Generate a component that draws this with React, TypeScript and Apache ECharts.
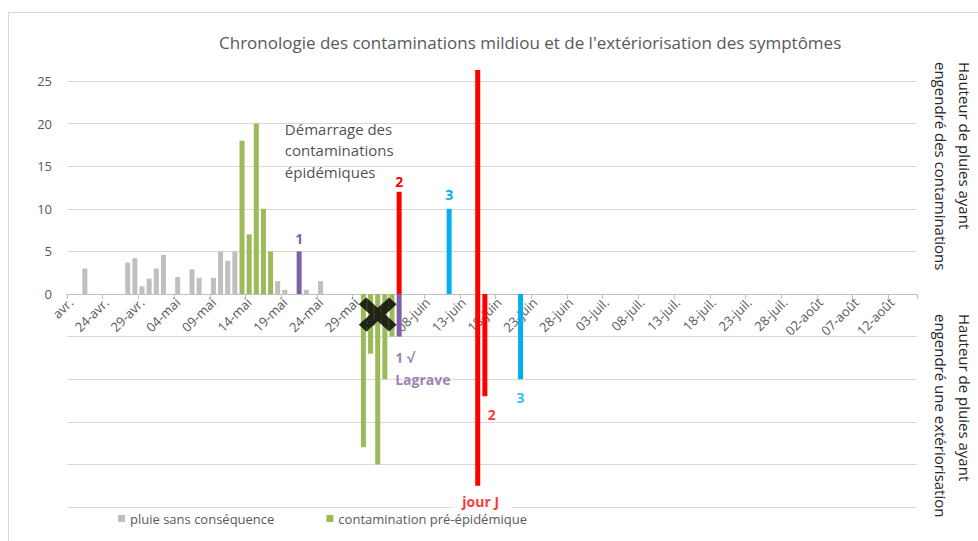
import { useEffect, useRef } from 'react';
import * as echarts from 'echarts';

// ---- categories (one per day, 19-avr. .. 15-août) ----
const monthSpans: [string, number, number][] = [
  ['avr.', 19, 30],
  ['mai', 1, 31],
  ['juin', 1, 30],
  ['juil.', 1, 31],
  ['août', 1, 15],
];
const categories: string[] = [];
for (const [m, a, b] of monthSpans) {
  for (let d = a; d <= b; d++) categories.push(String(d).padStart(2, '0') + '-' + m);
}

// tick labels shown every 5 days
const tickLabels = [
  'avr.', '24-avr.', '29-avr.', '04-mai', '09-mai', '14-mai', '19-mai', '24-mai',
  '29-mai', '03-juin', '08-juin', '13-juin', '18-juin', '23-juin', '28-juin',
  '03-juil.', '08-juil.', '13-juil.', '18-juil.', '23-juil.', '28-juil.',
  '02-août', '07-août', '12-août',
];

// ---- rain without consequence ----
const pluieDates = ['21-avr.', '27-avr.', '28-avr.', '29-avr.', '30-avr.', '01-mai', '02-mai', '04-mai', '06-mai', '07-mai', '09-mai', '10-mai', '11-mai', '12-mai', '18-mai', '19-mai', '22-mai', '24-mai'];
const pluieValues = [3, 3.7, 4.2, 0.9, 1.8, 3, 4.6, 2, 2.9, 1.9, 1.9, 5, 3.9, 5, 1.5, 0.5, 0.5, 1.5];

// ---- pre-epidemic contamination (rain) ----
const preEpiDates = ['13-mai', '14-mai', '15-mai', '16-mai', '17-mai'];
const preEpiValues = [18, 7, 20, 10, 5];

// ---- externalisation of pre-epidemic contaminations ----
const preEpiExtDates = ['30-mai', '31-mai', '01-juin', '02-juin', '03-juin'];
const preEpiExtValues = [-18, -7, -20, -10, -5];

// ---- contamination 1 (purple) ----
const cont1Dates = ['21-mai'];
const cont1Values = [5];
const ext1Dates = ['04-juin'];
const ext1Values = [-5];

// ---- contamination 2 (red) ----
const cont2Dates = ['04-juin'];
const cont2Values = [12];
const ext2Dates = ['16-juin'];
const ext2Values = [-12];

// ---- contamination 3 (blue) ----
const cont3Dates = ['11-juin'];
const cont3Values = [10];
const ext3Dates = ['21-juin'];
const ext3Values = [-10];

// ---- "jour J" marker ----
const jourJDates = ['15-juin', '15-juin'];
const jourJValues = [26.3, -22.5];

// ---- cross marker ----
const crossDates = ['01-juin'];
const crossValues = [-2.4];

// ---- annotations ----
const annotDates = ['19-mai', '04-juin', '21-juin', '16-juin', '15-juin'];
const annotValues = [16.9, -8.7, -12.1, -14.1, -24.3];
const annotTexts = ['Démarrage des\ncontaminations\népidémiques', '1 √\nLagrave', '3', '2', 'jour J'];
const annotColors = ['#1a1a1a', '#8064a2', '#00b0f0', '#ff0000', '#ff0000'];

const Y_MIN = -25;
const Y_MAX = 25;

const FONT = "'Open Sans', 'Noto Sans', sans-serif";
const GRAY = '#bfbfbf';
const GREEN = '#9bbb59';
const PURPLE = '#7f5fa8';
const RED = '#ff0000';
const BLUE = '#00b0f0';

const pairs = (d: string[], v: number[]) => d.map((x, i) => [x, v[i]]);

const CROSS = 'path://M20,0 L50,30 L80,0 L100,20 L70,50 L100,80 L80,100 L50,70 L20,100 L0,80 L30,50 L0,20 Z';

const GRID = { left: 67, right: 61, top: 81, bottom: 34 };
const PLOT_H = 541 - GRID.top - GRID.bottom;

export default function App() {
  const ref = useRef<HTMLDivElement>(null);
  useEffect(() => {
    if (!ref.current) return;
    const chart = echarts.init(ref.current, undefined, { renderer: 'svg' });
    const barBase = { type: 'bar', barWidth: 5, barGap: '-100%', silent: true } as const;
    const numLabel = (color: string, text: string, distance: number) => ({
      show: true, position: 'top', distance, formatter: text, color,
      fontFamily: FONT, fontSize: 14, fontWeight: 'bold',
    });
    // x axis drawn along the zero line of the value axis
    const zeroOffset = -PLOT_H * (0 - Y_MIN) / (Y_MAX - Y_MIN);
    chart.setOption({
      animation: false,
      backgroundColor: '#ffffff',
      title: {
        text: "Chronologie des contaminations mildiou et de l'extériorisation des symptômes",
        left: 219, top: 34,
        padding: 0,
        textStyle: { color: '#595959', fontFamily: FONT, fontSize: 17, fontWeight: 'normal' },
      },
      legend: {
        data: ['pluie sans conséquence', 'contamination pré-épidémique'],
        left: 118, top: 512, padding: 0,
        icon: 'rect', itemWidth: 7, itemHeight: 7, itemGap: 52,
        textStyle: { color: '#595959', fontFamily: FONT, fontSize: 13 },
      },
      grid: GRID,
      xAxis: {
        type: 'category',
        data: categories,
        boundaryGap: true,
        offset: zeroOffset,
        axisLine: { onZero: false, lineStyle: { color: GRAY } },
        axisTick: { show: true, interval: 4, length: 5, lineStyle: { color: GRAY } },
        axisLabel: {
          interval: 4, rotate: 45, margin: 6,
          color: '#595959', fontFamily: FONT, fontSize: 13,
          formatter: (_v: string, idx: number) => tickLabels[Math.round(idx / 5)] ?? '',
        },
        splitLine: { show: false },
      },
      yAxis: {
        type: 'value', min: Y_MIN, max: Y_MAX, interval: 5,
        axisLine: { show: false }, axisTick: { show: false },
        axisLabel: {
          color: '#595959', fontFamily: FONT, fontSize: 13, margin: 15,
          formatter: (v: number) => (v >= 0 ? String(v) : ''),
        },
        splitLine: { lineStyle: { color: '#d9d9d9' } },
      },
      graphic: [
        {
          type: 'rect', shape: { x: 8.5, y: 12.5, width: 1000, height: 600 },
          style: { fill: 'none', stroke: '#d9d9d9', lineWidth: 1 }, silent: true, z: -1,
        },
        {
          type: 'text', x: 953, y: 62, rotation: -Math.PI / 2,
          style: {
            text: 'Hauteur de pluies ayant\nengendré des contaminations',
            fill: '#262626', font: `15px ${FONT}`, align: 'left', verticalAlign: 'middle', lineHeight: 24,
          },
        },
        {
          type: 'text', x: 953, y: 314, rotation: -Math.PI / 2,
          style: {
            text: 'Hauteur de pluies ayant\nengendré une extériorisation',
            fill: '#262626', font: `15px ${FONT}`, align: 'left', verticalAlign: 'middle', lineHeight: 24,
          },
        },
      ],
      series: [
        { ...barBase, name: 'pluie sans conséquence', data: pairs(pluieDates, pluieValues), itemStyle: { color: GRAY } },
        { ...barBase, name: 'contamination pré-épidémique', data: pairs(preEpiDates, preEpiValues), itemStyle: { color: GREEN } },
        { ...barBase, name: 'extériorisation pré-épidémique', data: pairs(preEpiExtDates, preEpiExtValues), itemStyle: { color: GREEN } },
        { ...barBase, name: 'contamination 1', data: pairs(cont1Dates, cont1Values), itemStyle: { color: PURPLE }, label: numLabel(PURPLE, '1', 6) },
        { ...barBase, name: 'extériorisation 1', data: pairs(ext1Dates, ext1Values), itemStyle: { color: PURPLE } },
        { ...barBase, name: 'contamination 2', data: pairs(cont2Dates, cont2Values), itemStyle: { color: RED }, label: numLabel(RED, '2', 3) },
        { ...barBase, name: 'extériorisation 2', data: pairs(ext2Dates, ext2Values), itemStyle: { color: RED } },
        { ...barBase, name: 'contamination 3', data: pairs(cont3Dates, cont3Values), itemStyle: { color: BLUE }, label: numLabel(BLUE, '3', 7) },
        { ...barBase, name: 'extériorisation 3', data: pairs(ext3Dates, ext3Values), itemStyle: { color: BLUE } },
        { ...barBase, name: 'jour J', data: pairs(jourJDates, jourJValues), itemStyle: { color: RED }, clip: false, z: 3 },
        {
          type: 'scatter', name: 'démarrage', silent: true, z: 5,
          symbol: CROSS, symbolSize: [38, 34],
          itemStyle: { color: '#000000' },
          data: pairs(crossDates, crossValues),
        },
        {
          type: 'scatter', name: 'annotations', silent: true, z: 6,
          symbolSize: 0,
          clip: false,
          data: annotDates.map((d, i) => ({
            value: [d, annotValues[i]],
            label: {
              show: true,
              position: 'inside',
              formatter: annotTexts[i],
              color: annotColors[i],
              fontFamily: FONT,
              fontSize: i === 0 ? 15 : 14,
              fontWeight: i === 0 ? 'normal' : 'bold',
              align: i <= 1 ? 'left' : 'center',
              lineHeight: i === 0 ? 21.5 : i === 1 ? 22 : 16,
              backgroundColor: i === 4 ? '#ffffff' : 'transparent',
              padding: i === 4 ? [0, 13] : 0,
              offset: i === 1 ? [-4, 0] : i === 3 ? [7, 0] : i === 4 ? [3, 0] : [0, 0],
            },
          })),
        },
      ],
    });
    return () => chart.dispose();
  }, []);
  return <div ref={ref} style={{ position: 'absolute', left: 0, top: 0, width: 978, height: 541 }} />;
}
